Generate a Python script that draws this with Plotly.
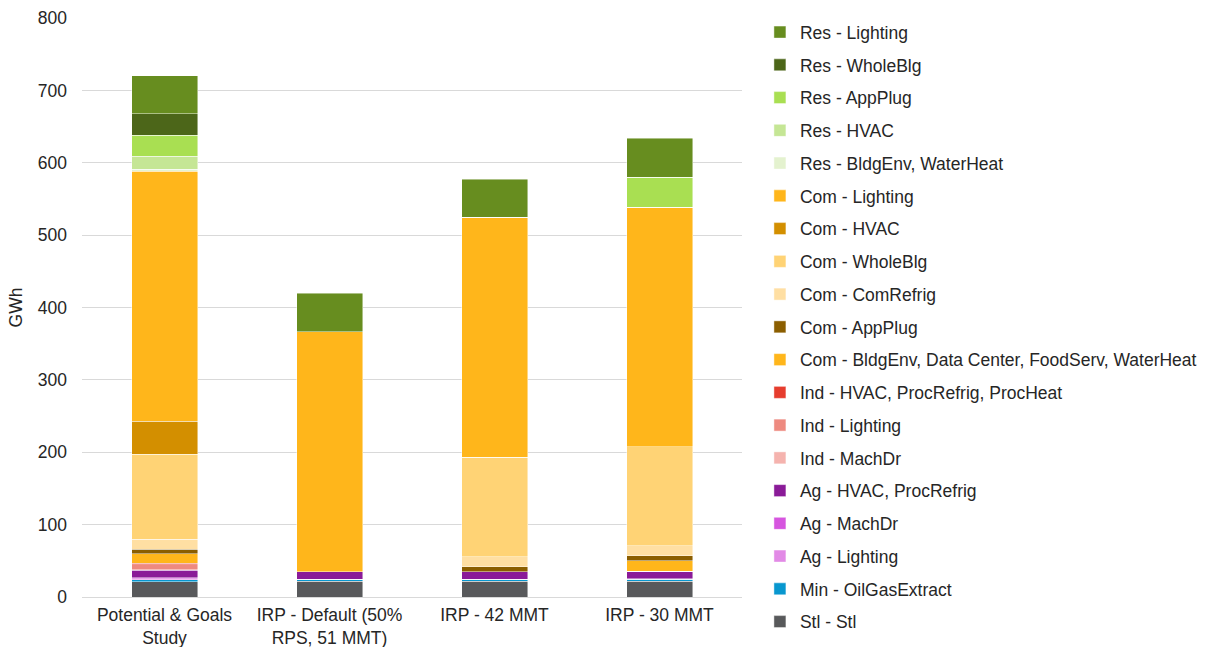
import plotly.graph_objects as go

categories = ["Potential & Goals<br>Study", "IRP - Default (50%<br>RPS, 51 MMT)", "IRP - 42 MMT", "IRP - 30 MMT"]

# series listed bottom-up (stack order)
series_names = [
    "Stl - Stl", "Min - OilGasExtract", "Ag - Lighting", "Ag - MachDr", "Ag - HVAC, ProcRefrig",
    "Ind - MachDr", "Ind - Lighting", "Ind - HVAC, ProcRefrig, ProcHeat",
    "Com - BldgEnv, Data Center, FoodServ, WaterHeat", "Com - AppPlug", "Com - ComRefrig",
    "Com - WholeBlg", "Com - HVAC", "Com - Lighting",
    "Res - BldgEnv, WaterHeat", "Res - HVAC", "Res - AppPlug", "Res - WholeBlg", "Res - Lighting",
]
stl = [21.0, 22.0, 22.0, 22.0]
min_oil = [2.8, 2.8, 2.8, 2.8]
ag_light = [1.2, 0, 0, 0]
ag_mach = [1.6, 0, 0, 0.5]
ag_hvac = [10.1, 10.2, 10.2, 10.0]
ind_mach = [0.9, 0, 0, 0]
ind_light = [6.9, 0, 0, 0]
ind_hvac = [2.3, 0, 0, 0]
com_bldg = [12.9, 0, 0, 14.5]
com_app = [6.5, 0, 6.9, 6.9]
com_refrig = [13.8, 0, 13.8, 13.8]
com_whole = [117.0, 0, 137.3, 137.2]
com_hvac = [46.0, 0, 0, 0]
com_light = [345.4, 331.5, 332.0, 331.0]
res_bldg = [2.8, 0, 0, 0]
res_hvac = [17.5, 0, 0, 0]
res_app = [29.3, 0, 0, 41.3]
res_whole = [29.5, 0, 0, 0]
res_light = [52.5, 53.0, 52.0, 54.0]

series_values = [stl, min_oil, ag_light, ag_mach, ag_hvac, ind_mach, ind_light, ind_hvac,
                 com_bldg, com_app, com_refrig, com_whole, com_hvac, com_light,
                 res_bldg, res_hvac, res_app, res_whole, res_light]
colors = ["#58595B", "#0897CF", "#E28AE6", "#D655DF", "#8A1B98",
          "#F5B3AE", "#EE8A80", "#E63D2E",
          "#FFB61B", "#8B5E00", "#FFDFA3", "#FFD375", "#D38F00", "#FFB61B",
          "#E4F2CF", "#C5E695", "#A9DF52", "#4C6619", "#678D1F"]

n = len(series_names)
fig = go.Figure()
for i, (name, vals, col) in enumerate(zip(series_names, series_values, colors)):
    fig.add_trace(go.Bar(
        x=categories, y=vals, name=name, marker_color=col,
        marker_line=dict(color="rgba(255,255,255,0.6)", width=0.75),
        width=0.4, legendgroup=f"g{i}", legendrank=n - i,
    ))

font_family = "Liberation Sans"
fs = 17.5
fig.update_layout(
    barmode="stack",
    width=1212, height=647,
    margin=dict(l=82, r=470, t=18, b=50, autoexpand=False),
    plot_bgcolor="white", paper_bgcolor="white",
    font=dict(family=font_family, size=fs, color="#262626"),
    legend=dict(
        traceorder="grouped", tracegroupgap=7,
        xref="container", yref="container", x=0.627, y=0.978,
        xanchor="left", yanchor="top", maxheight=1.0,
        font=dict(size=fs, color="#262626"),
        itemwidth=30,
    ),
    xaxis=dict(showgrid=False, showline=True, linecolor="#D9D9D9", ticks="",
               automargin=False, ticklabelstandoff=2, tickfont=dict(size=fs, color="#262626")),
    yaxis=dict(range=[0, 800], dtick=100, showgrid=True, gridcolor="#D9D9D9",
               zeroline=False, ticks="", automargin=False, ticklabelstandoff=14,
               tickfont=dict(size=fs, color="#262626"),
               title=dict(text="GWh", font=dict(size=fs, color="#262626"), standoff=10)),
)
fig.write_html("out.html", config={"displayModeBar": False},
               post_script="document.body.style.margin='0';")
